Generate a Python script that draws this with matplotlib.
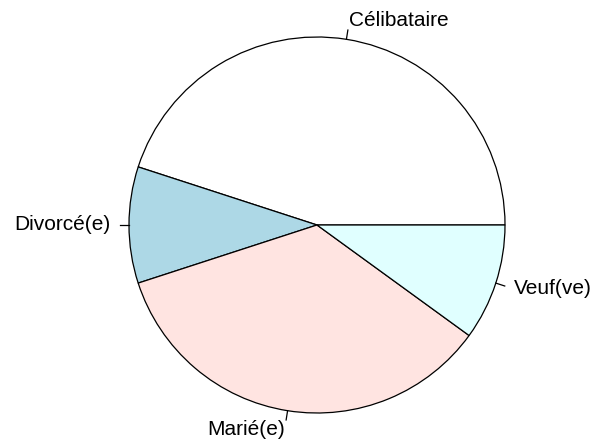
import numpy as np
import matplotlib
matplotlib.use("Agg")
import matplotlib.pyplot as plt

# Données (effectifs)
categories = ["Célibataire", "Divorcé(e)", "Marié(e)", "Veuf(ve)"]
effectifs = [90, 20, 70, 20]
couleurs = ["white", "lightblue", "mistyrose", "lightcyan"]

plt.rcParams['font.family'] = ['Liberation Sans', 'DejaVu Sans']

fig = plt.figure(figsize=(5.93, 4.42), dpi=100)
ax = fig.add_axes([0, 0, 1, 1])

wedges, _ = ax.pie(effectifs, colors=couleurs, startangle=0, counterclock=True,
                   radius=1.0,
                   wedgeprops=dict(edgecolor='black', linewidth=0.9))

# Lignes de repère et étiquettes à la manière de pie() de R
total = float(sum(effectifs))
cumul = np.cumsum([0] + effectifs) / total
for i, lab in enumerate(categories):
    theta = 2 * np.pi * (cumul[i] + cumul[i + 1]) / 2
    c, s = np.cos(theta), np.sin(theta)
    ax.plot([c, 1.05 * c], [s, 1.05 * s], color='black', linewidth=0.9)
    ax.text(1.10 * c, 1.10 * s, lab, fontsize=15,
            ha='left' if c > 0 else 'right', va='center')

ax.set_aspect('auto')
ax.set_xlim(-317 / 188, (593 - 317) / 188)
ax.set_ylim(-(442 - 225) / 188, 225 / 188)
ax.axis('off')

fig.savefig("out.png", dpi=100)
